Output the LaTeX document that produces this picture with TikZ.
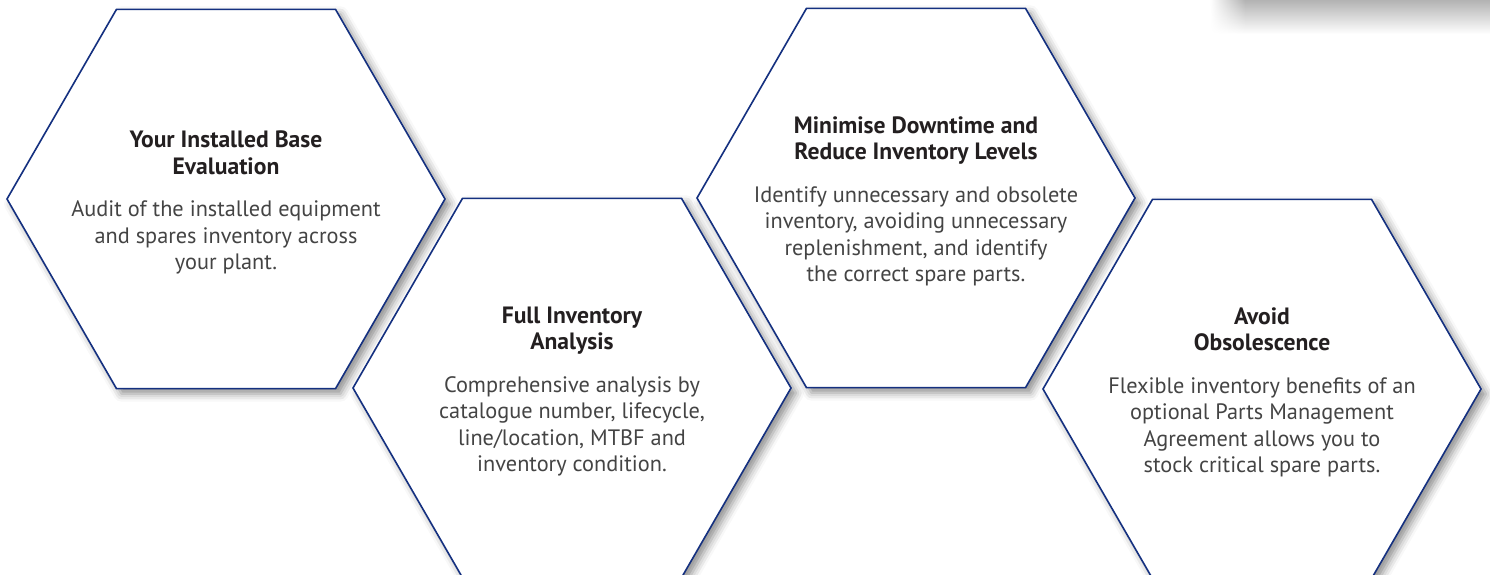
\documentclass[tikz,border=0pt]{standalone}
\usepackage{fontspec}
\setmainfont{PT Sans}
\usetikzlibrary{shapes.geometric,shadows.blur,fadings,positioning}
\definecolor{hexblue}{RGB}{20,48,128}
\definecolor{titleink}{RGB}{35,31,32}
\definecolor{bodyink}{RGB}{68,68,68}
\tikzfading[name=fadein, left color=transparent!100, right color=transparent!0]
\tikzset{
  hexbox/.style={regular polygon, regular polygon sides=6, minimum size=438pt,
    inner sep=0pt, draw=hexblue, line width=1.6pt, fill=white,
    blur shadow={shadow xshift=5pt, shadow yshift=-5pt, shadow blur radius=8pt, shadow opacity=45}},
  hextext/.style={align=center, inner sep=0pt, text=bodyink, yshift=-3.5pt,
    font=\fontsize{22.3}{26.5}\selectfont},
}
\newcommand{\hexhead}[1]{\textcolor{titleink}{\fontsize{23.6}{26.5}\selectfont\bfseries #1}}

\begin{document}
\begin{tikzpicture}[x=1pt,y=-1pt]
    \useasboundingbox (0,0) rectangle (1490,575);
    \clip (0,0) rectangle (1490,575);

    % grey shadow at the top right
    \shade[top color=black!30, bottom color=white] (1245,0) rectangle (1490,34);
    \shade[top color=black!30, bottom color=white, path fading=fadein] (1210,0) rectangle (1245,34);

    \node[hexbox] (h1) at (226,199) {};
    \node[hexbox] (h2) at (572,388) {};
    \node[hexbox] (h3) at (916,198) {};
    \node[hexbox] (h4) at (1262,389) {};

    \node[hextext] (t1) at (h1) {\hexhead{Your Installed Base}\\\hexhead{Evaluation}\\[16pt]
      Audit of the installed equipment\\and spares inventory across\\your plant.};
    \node[hextext] (t2) at (h2) {\hexhead{Full Inventory}\\\hexhead{Analysis}\\[16pt]
      Comprehensive analysis by\\catalogue number, lifecycle,\\line/location, MTBF and\\inventory condition.};
    \node[hextext] (t3) at (h3) {\hexhead{Minimise Downtime and}\\\hexhead{Reduce Inventory Levels}\\[16pt]
      Identify unnecessary and obsolete\\inventory, avoiding unnecessary\\replenishment, and identify\\the correct spare parts.};
    \node[hextext] (t4) at (h4) {\hexhead{Avoid}\\\hexhead{Obsolescence}\\[16pt]
      Flexible inventory benefits of an\\optional Parts Management\\Agreement allows you to\\stock critical spare parts.};
\end{tikzpicture}
\end{document}
